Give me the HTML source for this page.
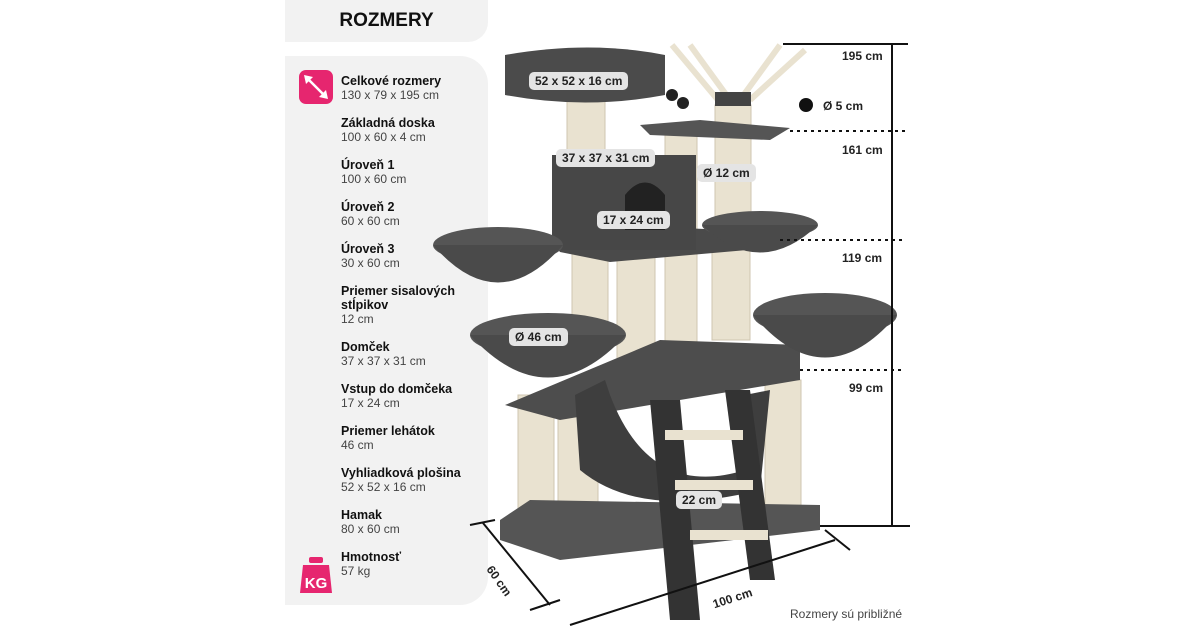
<!DOCTYPE html>
<html><head><meta charset="utf-8"><style>
body{margin:0;width:1200px;height:630px;background:#fff;position:relative;overflow:hidden;font-family:"Liberation Sans",sans-serif}
.hdr{position:absolute;left:285px;top:0;width:203px;height:42px;background:#f2f2f2;border-radius:0 0 20px 0;text-align:center;line-height:42px;font-weight:bold;font-size:19px;color:#111}
.pan{position:absolute;left:285px;top:56px;width:203px;height:549px;background:#f2f2f2;border-radius:0 28px 28px 0}
.it{position:absolute;left:341px;width:135px;font-size:12px;color:#444;line-height:14px}
.it b{color:#111;font-size:12.5px;display:block}
.lbl{position:absolute;background:#e4e4e4;border-radius:5px;font-weight:bold;font-size:12px;color:#222;padding:2px 6px;line-height:14px}
.dim{position:absolute;font-weight:bold;font-size:12px;color:#222}
</style></head><body>
<div class="hdr">ROZMERY</div>
<div class="pan"></div>
<div style="position:absolute;left:299px;top:70px;width:34px;height:34px;background:#e6266f;border-radius:7px"></div>
<svg style="position:absolute;left:299px;top:70px" width="34" height="34"><line x1="8" y1="8" x2="26" y2="26" stroke="#fff" stroke-width="2.5"/><polygon points="5,5 14,7 7,14" fill="#fff"/><polygon points="29,29 20,27 27,20" fill="#fff"/></svg>
<svg style="position:absolute;left:297px;top:555px" width="38" height="40"><rect x="12" y="2" width="14" height="6" rx="2" fill="#e6266f"/><path d="M6 10 H32 L35 38 H3Z" fill="#e6266f"/><text x="19" y="33" text-anchor="middle" font-family="Liberation Sans" font-weight="bold" font-size="15" fill="#fff">KG</text></svg>
<div class="it" style="top:74px"><b>Celkové rozmery</b>130 x 79 x 195 cm</div>
<div class="it" style="top:116px"><b>Základná doska</b>100 x 60 x 4 cm</div>
<div class="it" style="top:158px"><b>Úroveň 1</b>100 x 60 cm</div>
<div class="it" style="top:200px"><b>Úroveň 2</b>60 x 60 cm</div>
<div class="it" style="top:242px"><b>Úroveň 3</b>30 x 60 cm</div>
<div class="it" style="top:284px"><b>Priemer sisalových stĺpikov</b>12 cm</div>
<div class="it" style="top:340px"><b>Domček</b>37 x 37 x 31 cm</div>
<div class="it" style="top:382px"><b>Vstup do domčeka</b>17 x 24 cm</div>
<div class="it" style="top:424px"><b>Priemer lehátok</b>46 cm</div>
<div class="it" style="top:466px"><b>Vyhliadková plošina</b>52 x 52 x 16 cm</div>
<div class="it" style="top:508px"><b>Hamak</b>80 x 60 cm</div>
<div class="it" style="top:550px"><b>Hmotnosť</b>57 kg</div>

<svg style="position:absolute;left:0;top:0" width="1200" height="630">
<g fill="#e9e2d0" stroke="#cfc6b0">
<rect x="567" y="90" width="38" height="140"/><rect x="665" y="130" width="32" height="220"/>
<rect x="715" y="105" width="36" height="135"/><rect x="572" y="240" width="36" height="110"/>
<rect x="617" y="255" width="38" height="140"/><rect x="712" y="240" width="38" height="100"/>
<rect x="518" y="395" width="36" height="120"/><rect x="558" y="395" width="40" height="145"/>
<rect x="765" y="380" width="36" height="130"/>
</g>
<path d="M500 520 L530 500 L820 505 L820 530 L560 560 L500 540Z" fill="#555"/>
<path d="M505 405 L660 340 L800 345 L800 380 L560 420Z" fill="#4d4d4d"/>
<path d="M550 240 L610 225 L775 232 L770 248 L610 262 L560 252Z" fill="#4a4a4a"/>
<path d="M640 125 L700 120 L790 128 L770 140 L650 135Z" fill="#555"/>
<rect x="552" y="155" width="144" height="95" fill="#474747"/>
<path d="M625 230 V195 Q645 170 665 195 V230Z" fill="#222"/>
<path d="M505 55 Q590 40 665 55 L665 95 Q585 110 505 95Z" fill="#4b4b4b"/>
<ellipse cx="498" cy="245" rx="65" ry="18" fill="#555"/><path d="M433 245 Q498 320 563 245Z" fill="#4a4a4a"/>
<ellipse cx="548" cy="335" rx="78" ry="22" fill="#555"/><path d="M470 335 Q548 420 626 335Z" fill="#4a4a4a"/>
<ellipse cx="825" cy="315" rx="72" ry="22" fill="#555"/><path d="M753 315 Q825 400 897 315Z" fill="#4a4a4a"/>
<ellipse cx="760" cy="225" rx="58" ry="14" fill="#555"/><path d="M702 225 Q760 280 818 225Z" fill="#4a4a4a"/>
<path d="M575 395 L605 380 L610 395 Q650 500 745 470 L745 395 L770 390 L760 490 Q640 520 580 470Z" fill="#3e3e3e"/>
<path d="M650 400 L680 400 L700 620 L670 620Z" fill="#333"/><path d="M725 390 L750 390 L775 580 L750 580Z" fill="#333"/>
<rect x="665" y="430" width="78" height="10" fill="#e9e2d0"/><rect x="675" y="480" width="78" height="10" fill="#e9e2d0"/><rect x="690" y="530" width="78" height="10" fill="#e9e2d0"/>
<g stroke="#e9e2d0" stroke-width="6"><line x1="672" y1="45" x2="718" y2="100"/><line x1="690" y1="45" x2="730" y2="100"/><line x1="780" y1="45" x2="740" y2="100"/><line x1="805" y1="50" x2="750" y2="100"/></g>
<circle cx="672" cy="95" r="6" fill="#222"/><circle cx="683" cy="103" r="6" fill="#222"/>
<rect x="715" y="92" width="36" height="14" fill="#444"/>
<g stroke="#111" stroke-width="2" fill="none">
<line x1="783" y1="44" x2="908" y2="44"/><line x1="892" y1="44" x2="892" y2="526"/><line x1="820" y1="526" x2="910" y2="526"/>
<line x1="470" y1="525" x2="495" y2="520"/><line x1="483" y1="523" x2="550" y2="605"/><line x1="530" y1="610" x2="560" y2="600"/>
<line x1="570" y1="625" x2="835" y2="540"/><line x1="825" y1="530" x2="850" y2="550"/>
</g>
<g stroke="#111" stroke-width="2" stroke-dasharray="3,4"><line x1="790" y1="131" x2="905" y2="131"/><line x1="780" y1="240" x2="905" y2="240"/><line x1="800" y1="370" x2="905" y2="370"/></g>
<circle cx="806" cy="105" r="7" fill="#111"/>
<text x="483" y="575" transform="rotate(55 490 575)" font-family="Liberation Sans" font-weight="bold" font-size="12" fill="#222">60 cm</text>
<text x="712" y="603" transform="rotate(-18 730 598)" font-family="Liberation Sans" font-weight="bold" font-size="12" fill="#222">100 cm</text>
</svg>
<div class="lbl" style="left:529px;top:72px">52 x 52 x 16 cm</div>
<div class="lbl" style="left:556px;top:149px">37 x 37 x 31 cm</div>
<div class="lbl" style="left:697px;top:164px">Ø 12 cm</div>
<div class="lbl" style="left:597px;top:211px">17 x 24 cm</div>
<div class="lbl" style="left:509px;top:328px">Ø 46 cm</div>
<div class="lbl" style="left:676px;top:491px">22 cm</div>
<div class="dim" style="left:823px;top:99px">Ø 5 cm</div>
<div class="dim" style="left:842px;top:49px">195 cm</div>
<div class="dim" style="left:842px;top:143px">161 cm</div>
<div class="dim" style="left:842px;top:251px">119 cm</div>
<div class="dim" style="left:849px;top:381px">99 cm</div>
<div style="position:absolute;left:790px;top:607px;font-size:12px;color:#444">Rozmery sú približné</div>
</body></html>
